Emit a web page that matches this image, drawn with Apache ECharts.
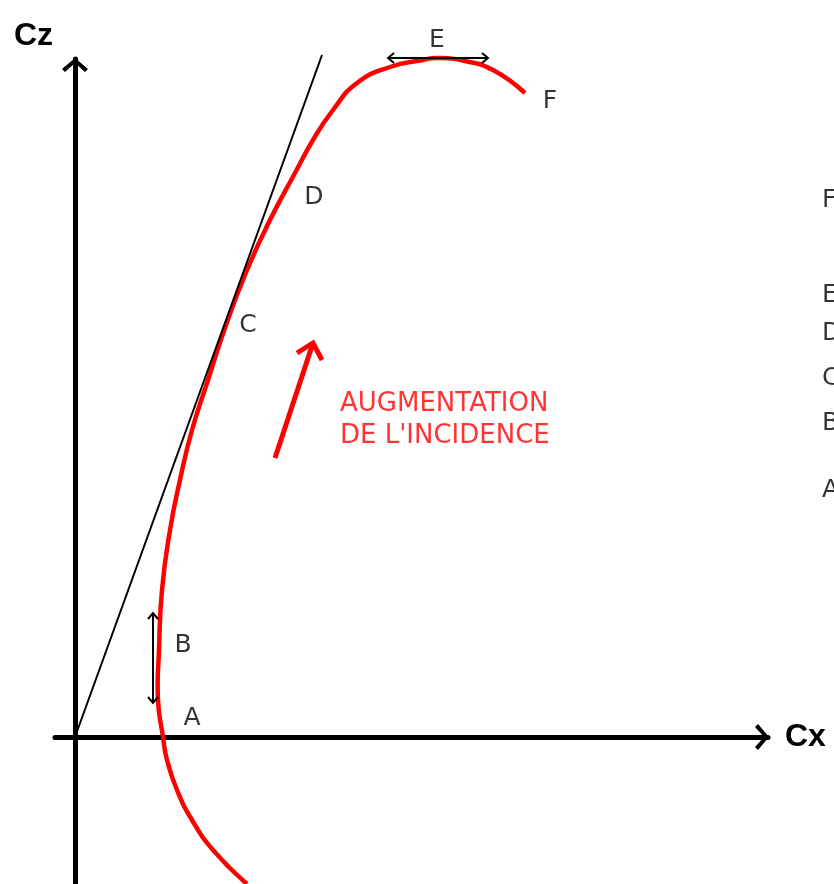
<!DOCTYPE html>
<html lang="fr">
<head>
<meta charset="utf-8">
<title>Polaire Cz / Cx</title>
<script src="https://cdn.jsdelivr.net/npm/echarts@6/dist/echarts.min.js"></script>
<style>
  html, body { margin: 0; padding: 0; background: #fff; }
  #polaire { width: 834px; height: 884px; }
</style>
</head>
<body>
<div id="polaire"></div>
<script>
// === Données (Cx, Cz) ========================================================
const courbe = [
  [0.172, -0.294], [0.138, -0.226], [0.117, -0.166], [0.102, -0.106],
  [0.092, -0.046], [0.088, 0], [0.083, 0.074], [0.084, 0.174], [0.087, 0.294],
  [0.095, 0.414], [0.105, 0.514], [0.117, 0.614], [0.133, 0.714], [0.151, 0.824],
  [0.172, 0.934], [0.195, 1.034], [0.220, 1.128], [0.238, 1.194], [0.258, 1.254],
  [0.282, 1.308], [0.315, 1.34], [0.348, 1.354], [0.362, 1.358], [0.390, 1.352],
  [0.418, 1.334], [0.450, 1.288]
];
const tangente = [[0, 0], [0.247, 1.364]];

const pointsNoms   = ['A', 'B', 'C', 'D', 'E', 'F'];
const pointsCoords = [[0.117, 0.038], [0.108, 0.184], [0.173, 0.824], [0.239, 1.08], [0.362, 1.394], [0.475, 1.272]];

// colonne de lettres coupée au bord droit
const colonneNoms   = ['F', 'E', 'D', 'C', 'B', 'A'];
const colonneCoords = [[0.747, 1.074], [0.747, 0.884], [0.747, 0.808], [0.747, 0.718], [0.747, 0.628], [0.747, 0.494]];

// flèches : tige + pointes (branche, sommet, branche)
const flecheIncidence = [
  [[0.200, 0.558], [0.238, 0.788]],
  [[0.222, 0.768], [0.238, 0.788], [0.247, 0.754]]
];
const flecheB = [
  [[0.078, 0.248], [0.078, 0.068]],
  [[0.073, 0.236], [0.078, 0.248], [0.083, 0.236]],
  [[0.073, 0.080], [0.078, 0.068], [0.083, 0.080]]
];
const flecheE = [
  [[0.313, 1.358], [0.413, 1.358]],
  [[0.319, 1.368], [0.313, 1.358], [0.319, 1.348]],
  [[0.407, 1.368], [0.413, 1.358], [0.407, 1.348]]
];

const texteIncidence = "AUGMENTATION\nDE L'INCIDENCE";
const texteCoord = [0.265, 0.634];

// === Styles ==================================================================
const rouge = '#ff0000', noir = '#000';
const police = "'Liberation Sans', Arial, sans-serif";
const policeTexte = "'DejaVu Sans', Verdana, sans-serif";
const CHEVRON = 'path://M13,0 L26,11 L23,14 L13,5 L3,14 L0,11 Z';   // pointe vers le haut

const axe = (nom, extra) => ({
  type: 'value',
  name: nom,
  axisLine: {
    onZero: true,
    symbol: ['none', CHEVRON], symbolSize: [26, 14], symbolOffset: [0, -6],
    lineStyle: { color: noir, width: 5 }
  },
  axisTick: { show: false },
  axisLabel: { show: false },
  splitLine: { show: false },
  ...extra
});

const etiquettes = (noms, coords, label) => ({
  type: 'scatter', symbolSize: 0, clip: false, silent: true,
  data: noms.map((n, i) => ({ name: n, value: coords[i] })),
  label: { show: true, formatter: '{b}', fontFamily: policeTexte, fontSize: 25, color: noir, ...label }
});

const fleche = (traits, couleur, largeur) => traits.map(t => ({
  type: 'line', data: t, clip: false, silent: true, symbol: 'none',
  lineStyle: { color: couleur, width: largeur, join: 'miter', cap: 'butt' }
}));

// polaire : tracé lissé sans contrainte d'axe (le lissage de 'line' écrase les virages)
const polaire = {
  name: 'polaire', type: 'custom', data: courbe, clip: false, silent: true,
  renderItem: (params, api) => params.dataIndex !== 0 ? null : {
    type: 'polyline',
    shape: { points: courbe.map(p => api.coord(p)), smooth: 0.5 },
    style: { stroke: rouge, lineWidth: 4.5, fill: null, lineJoin: 'round' }
  }
};

const option = {
  animation: false,
  backgroundColor: '#fff',
  grid: { left: 55, right: 66, top: 59, bottom: 0 },
  xAxis: axe('Cx', {
    min: -0.02, max: 0.693,
    nameGap: 17,
    nameTextStyle: { fontFamily: police, fontSize: 32, fontWeight: 'bold', color: noir }
  }),
  yAxis: axe('Cz', {
    min: -0.294, max: 1.356,
    nameGap: 7,
    nameTextStyle: { fontFamily: police, fontSize: 32, fontWeight: 'bold', color: noir, align: 'right', padding: [0, 22, 0, 0] }
  }),
  series: [
    {
      name: 'tangente', type: 'line', data: tangente, clip: false, silent: true,
      symbol: 'none', lineStyle: { color: noir, width: 2 }
    },
    polaire,
    ...fleche(flecheIncidence, rouge, 5),
    ...fleche(flecheB, noir, 2),
    ...fleche(flecheE, noir, 2),
    etiquettes(pointsNoms, pointsCoords, { position: 'inside' }),
    etiquettes(colonneNoms, colonneCoords, { position: 'right', distance: 0 }),
    {
      type: 'scatter', symbolSize: 0, clip: false, silent: true,
      data: [{ name: texteIncidence, value: texteCoord }],
      label: {
        show: true, formatter: '{b}', position: 'right', distance: 0,
        fontFamily: policeTexte, fontSize: 26, lineHeight: 32, color: rouge
      }
    }
  ]
};

const chart = echarts.init(document.getElementById('polaire'));
chart.setOption(option, true);
</script>
</body>
</html>
